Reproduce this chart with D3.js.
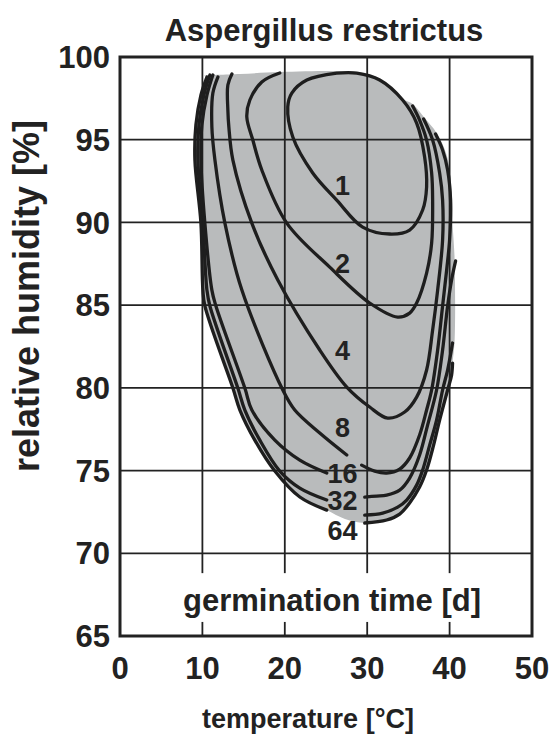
<!DOCTYPE html>
<html>
<head>
<meta charset="utf-8">
<script src="https://cdn.jsdelivr.net/npm/d3@7"></script>
<style>
body { margin: 0; background: #fff; }
text { font-family: "Liberation Sans", Arial, sans-serif; font-weight: bold; fill: #222; }
</style>
</head>
<body>
<svg id="chart" width="549" height="740"></svg>
<script>
const xTicks = [0, 10, 20, 30, 40, 50];
const yTicks = [65, 70, 75, 80, 85, 90, 95, 100];

// germination time isopleths [temperature, rel. humidity]
const c1 = [[26.3,99.03],[28.73,99.03],[31.52,98.61],[34.3,97.4],[36.0,96.01],[36.97,93.95],[37.21,92.14],[36.73,90.75],[35.15,89.54],[32.73,89.3],[29.45,89.72],[26.3,91.35],[23.39,92.99],[20.97,95.16],[20.36,96.98],[20.85,97.82],[22.67,98.61]];
const c2 = [[19.39,99.03],[17.21,98.49],[15.76,97.4],[15.39,96.37],[16.12,94.98],[17.21,93.17],[20.24,89.96],[25.45,87.3],[30.3,85.13],[33.7,84.28],[35.15,84.52],[36.0,85.13],[37.21,86.94],[37.82,88.75],[37.94,91.35],[37.82,92.99],[37.21,94.98],[36.36,96.19],[35.52,97.04]];
const c4 = [[13.58,98.97],[13.09,98.31],[13.09,96.8],[13.21,95.77],[13.7,93.77],[16.0,89.96],[19.15,86.52],[24.24,82.29],[27.52,80.05],[30.3,78.84],[32.48,78.17],[34.55,78.54],[36.0,79.44],[37.21,81.08],[37.94,83.49],[38.55,85.91],[39.15,88.94],[39.15,91.35],[38.79,92.99],[37.94,94.98],[36.85,96.25]];
const c8Left = [[11.88,98.79],[11.27,97.82],[11.15,95.77],[11.52,93.77],[12.73,89.96],[14.79,85.91],[19.76,79.87],[21.21,78.66],[24.24,77.27],[27.52,75.94]];
const c8Right = [[29.33,75.33],[30.91,74.97],[32.36,74.85],[33.94,75.09],[35.15,75.76],[36.36,77.15],[37.21,78.66],[37.82,79.87],[38.55,82.29],[39.15,84.95],[39.64,87.12],[40.0,88.94],[40.12,91.35],[39.76,93.17],[39.15,94.38],[38.3,95.34]];
const c16Left = [[11.27,98.91],[10.55,97.7],[9.94,95.89],[9.82,93.77],[10.3,89.96],[11.15,85.91],[11.64,84.95],[15.15,79.99],[16.0,78.66],[18.79,76.84],[21.82,75.63],[25.09,74.85]];
const c16Right = [[29.7,73.4],[31.15,73.46],[32.36,73.52],[33.94,73.82],[35.15,74.55],[36.36,75.94],[37.33,77.75],[38.42,79.87],[39.15,82.29],[39.76,84.95],[40.24,86.52],[40.73,87.67]];
const c32Left = [[10.91,98.91],[10.18,97.7],[9.58,95.89],[9.45,93.77],[10.06,89.96],[10.55,85.91],[10.91,84.95],[14.3,79.99],[15.15,78.66],[16.97,76.84],[19.39,74.97],[21.82,73.94],[25.09,73.22]];
const c32Right = [[29.7,72.31],[31.88,72.43],[33.7,72.79],[34.79,73.22],[36.0,74.12],[36.73,75.03],[37.58,76.54],[38.42,78.05],[39.15,79.87],[39.76,81.08],[40.36,82.71]];
const c64Left = [[10.55,98.79],[9.82,97.7],[9.21,95.89],[9.09,93.77],[9.82,89.96],[10.06,85.91],[10.3,84.95],[13.7,79.99],[14.55,78.66],[16.36,76.84],[18.79,74.97],[21.82,73.4],[25.09,72.61]];
const c64Right = [[29.7,71.83],[32.36,72.01],[33.94,72.37],[35.15,73.04],[36.36,74.0],[37.21,75.03],[38.06,76.54],[38.79,78.05],[39.76,79.87],[40.24,80.77],[40.36,81.5]];

// upper / right edge of the grey area (rest follows the 64 d line)
const shadeEdge = [[10.18,98.85],[14.55,98.97],[19.39,99.09],[26.3,99.15],[28.73,99.09],[31.52,98.67],[34.3,97.46],[35.52,97.16],[36.97,96.31],[38.42,95.41],[39.64,94.08],[40.24,91.96],[40.36,89.96],[40.61,87.73],[40.61,82.89]];
const shadeGap = [[27.3,72.07]];

const isoLines = [c1.concat([c1[0]]), c2, c4, c8Left, c8Right, c16Left, c16Right, c32Left, c32Right, c64Left, c64Right];
const isoLabels = ["1", "2", "4", "8", "16", "32", "64"];
const isoLabelRH = [92.26, 87.55, 82.29, 77.63, 74.85, 73.22, 71.4];
const isoLabelT = 27.0;

const svg = d3.select("#chart");
const x = d3.scaleLinear().domain([0, 50]).range([120, 532]);
const y = d3.scaleLinear().domain([65, 100]).range([636, 57]);

const line = d3.line().x(d => x(d[0])).y(d => y(d[1])).curve(d3.curveCatmullRom.alpha(0.5));

//grey area
const shade = shadeEdge.concat(c64Right.slice().reverse(), shadeGap, c64Left.slice().reverse());
svg.append("path")
    .attr("d", d3.line().x(d => x(d[0])).y(d => y(d[1])).curve(d3.curveCatmullRomClosed.alpha(0.5))(shade))
    .attr("fill", "#b9bbbc");

//grid
svg.append("g").selectAll("line")
    .data(yTicks.slice(1, -1)).enter()
  .append("line")
    .attr("x1", x(0)).attr("x2", x(50))
    .attr("y1", d => y(d)).attr("y2", d => y(d))
    .attr("stroke", "#222").attr("stroke-width", 1.8);
svg.append("g").selectAll("line")
    .data(xTicks.slice(1, -1)).enter()
  .append("line")
    .attr("x1", d => x(d)).attr("x2", d => x(d))
    .attr("y1", y(100)).attr("y2", y(65))
    .attr("stroke", "#222").attr("stroke-width", 1.8);

//isopleths
svg.append("g").selectAll("path")
    .data(isoLines).enter()
  .append("path")
    .attr("d", line)
    .attr("fill", "none")
    .attr("stroke", "#1e1e1e")
    .attr("stroke-width", 3.3)
    .attr("stroke-linecap", "round");

svg.selectAll("text.iso")
    .data(isoLabels).enter()
  .append("text")
    .classed("iso", true)
    .attr("x", x(isoLabelT))
    .attr("y", (d, i) => y(isoLabelRH[i]))
    .attr("dy", "0.36em")
    .attr("text-anchor", "middle")
    .style("font-size", "27px")
    .text(d => d);

//legend box
svg.append("rect")
    .attr("x", x(0) + 2).attr("width", x(50) - x(0) - 4)
    .attr("y", y(68.8)).attr("height", y(65.85) - y(68.8))
    .attr("fill", "#fff");
svg.append("text")
    .attr("x", 332).attr("y", 611)
    .attr("text-anchor", "middle")
    .style("font-size", "31px")
    .text("germination time [d]");

//frame
svg.append("rect")
    .attr("x", x(0)).attr("y", y(100))
    .attr("width", x(50) - x(0)).attr("height", y(65) - y(100))
    .attr("fill", "none").attr("stroke", "#222").attr("stroke-width", 3);

//tick labels
svg.selectAll("text.xt")
    .data(xTicks).enter()
  .append("text")
    .classed("xt", true)
    .attr("x", d => x(d)).attr("y", 679)
    .attr("text-anchor", "middle")
    .style("font-size", "31px")
    .text(d => d);
svg.selectAll("text.yt")
    .data(yTicks).enter()
  .append("text")
    .classed("yt", true)
    .attr("x", 110).attr("y", d => y(d))
    .attr("dy", "0.36em")
    .attr("text-anchor", "end")
    .style("font-size", "31px")
    .text(d => d);

//titles
svg.append("text")
    .attr("x", 324).attr("y", 41)
    .attr("text-anchor", "middle")
    .style("font-size", "31px")
    .text("Aspergillus restrictus");
svg.append("text")
    .attr("x", 308).attr("y", 728)
    .attr("text-anchor", "middle")
    .style("font-size", "27px")
    .text("temperature [°C]");
svg.append("text")
    .attr("transform", "translate(39,296) rotate(-90)")
    .attr("text-anchor", "middle")
    .style("font-size", "36px")
    .text("relative humidity [%]");
</script>
</body>
</html>
